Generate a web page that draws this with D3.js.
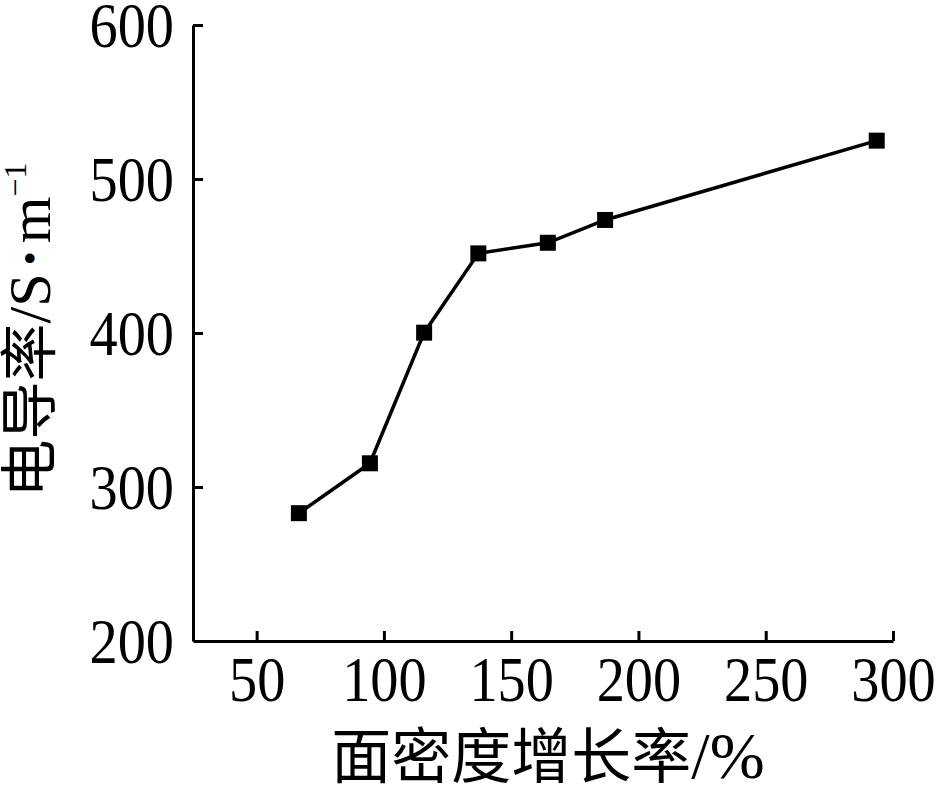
<!DOCTYPE html>
<html><head><meta charset="utf-8">
<script src="https://cdn.jsdelivr.net/npm/d3@7"></script>
<style>html,body{margin:0;padding:0;background:#fff;}</style>
</head><body>
<svg id="c" width="939" height="786"></svg>
<script>
const xValues = [66.6, 94.5, 115.8, 137.1, 164.4, 186.9, 293.6];
const yValues = [283, 315.4, 400.2, 451.7, 458.6, 473.4, 524.9];
const xTicks = [50, 100, 150, 200, 250, 300];
const yTicks = [200, 300, 400, 500, 600];
const xTitle = "面密度增长率";
const xTitleUnit = "/%";
const yTitle = "电导率";
const yTitleUnitA = "/S";
const yTitleDot = "•";
const yTitleUnitB = "m";
const yTitleSup = "−1";

const svg = d3.select("#c");
const serif = "'Liberation Serif','Times New Roman',serif";
const cjk = "'Noto Sans CJK SC','Noto Sans CJK JP',sans-serif";

const x = d3.scaleLinear().domain([25, 300]).range([193, 893]);
const y = d3.scaleLinear().domain([200, 600]).range([641, 25]);

const gx = svg.append("g").attr("transform", `translate(0,${y(200)})`)
  .call(d3.axisBottom(x).tickValues(xTicks).tickSizeInner(-10).tickSizeOuter(0).tickFormat(d3.format("d")));
const gy = svg.append("g").attr("transform", `translate(${x(25)},0)`)
  .call(d3.axisLeft(y).tickValues(yTicks).tickSizeInner(-10).tickSizeOuter(0).tickFormat(d3.format("d")));

const sx = 0.88;
[gx, gy].forEach(g => {
  g.select(".domain").attr("stroke", "#000").attr("stroke-width", 3);
  g.selectAll(".tick line").attr("stroke", "#000").attr("stroke-width", 3);
  g.selectAll(".tick text").attr("fill", "#000").style("font-family", serif).style("font-size", "64px")
    .attr("transform", `scale(${sx},1)`);
});
gx.selectAll(".tick text").attr("y", 60).attr("dy", 0);
gy.selectAll(".tick text").attr("x", -19 / sx).attr("dy", "0.33em");
gy.selectAll(".tick").filter(d => d === 200).select("line").remove();

const line = d3.line().x((d, i) => x(xValues[i])).y(d => y(d));
svg.append("path").datum(yValues).attr("d", line)
  .attr("fill", "none").attr("stroke", "#000").attr("stroke-width", 3.5);

svg.selectAll("rect.m").data(yValues).enter().append("rect").attr("class", "m")
  .attr("x", (d, i) => x(xValues[i]) - 8).attr("y", d => y(d) - 8)
  .attr("width", 16).attr("height", 16).attr("fill", "#000");

const xt = svg.append("text").attr("x", 548).attr("y", 778).attr("text-anchor", "middle")
  .attr("fill", "#000");
xt.append("tspan").style("font-family", cjk).style("font-size", "60px").text(xTitle);
xt.append("tspan").style("font-family", serif).style("font-size", "66px").text(xTitleUnit);

const yt = svg.append("text").attr("transform", "translate(50,330) rotate(-90)")
  .attr("text-anchor", "middle").attr("fill", "#000");
yt.append("tspan").style("font-family", cjk).style("font-size", "58px").text(yTitle);
yt.append("tspan").style("font-family", serif).style("font-size", "60px").text(yTitleUnitA);
yt.append("tspan").style("font-family", serif).style("font-size", "40px").attr("dx", 8).attr("dy", -6).text(yTitleDot);
yt.append("tspan").style("font-family", serif).style("font-size", "60px").attr("dx", 8).attr("dy", 6).text(yTitleUnitB);
yt.append("tspan").style("font-family", serif).style("font-size", "32px").attr("dy", -24).text(yTitleSup);
</script>
</body></html>
